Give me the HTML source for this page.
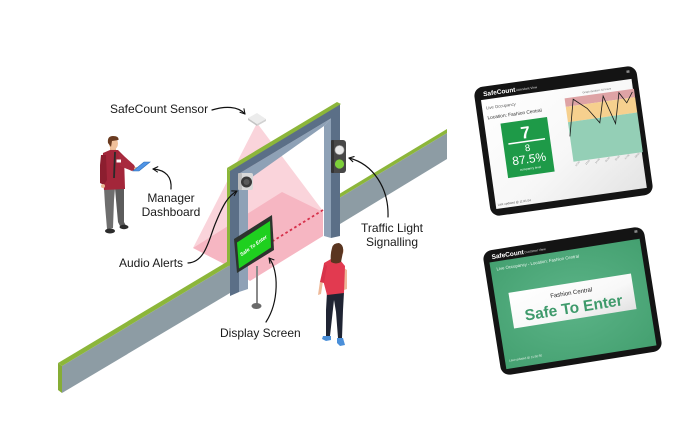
<!DOCTYPE html>
<html>
<head>
<meta charset="utf-8">
<style>
  html,body{margin:0;padding:0;background:#fff;}
  body{width:700px;height:440px;overflow:hidden;}
  svg{display:block;font-family:"Liberation Sans", Arial, sans-serif;}
</style>
</head>
<body>
<svg width="700" height="440" viewBox="0 0 700 440" xmlns="http://www.w3.org/2000/svg">
  <defs>
    <marker id="ah" viewBox="0 0 10 10" refX="8.5" refY="5" markerWidth="5.5" markerHeight="5.5" markerUnits="strokeWidth" orient="auto">
      <path d="M1.5,1 L8.5,5 L1.5,9" fill="none" stroke="#111" stroke-width="1.6" stroke-linecap="round" stroke-linejoin="round"/>
    </marker>
    <linearGradient id="scr1" x1="0" y1="0" x2="1" y2="1">
      <stop offset="0" stop-color="#ffffff"/>
      <stop offset="0.55" stop-color="#f7f7f7"/>
      <stop offset="1" stop-color="#e4e4e4"/>
    </linearGradient>
    <radialGradient id="scr2" cx="0.5" cy="0.5" r="0.7">
      <stop offset="0" stop-color="#5cb488"/>
      <stop offset="1" stop-color="#44a070"/>
    </radialGradient>
    <linearGradient id="ban" x1="0" y1="0" x2="1" y2="1">
      <stop offset="0" stop-color="#ffffff"/>
      <stop offset="0.6" stop-color="#f8f8f8"/>
      <stop offset="1" stop-color="#e2e2e2"/>
    </linearGradient>
  </defs>

  <rect width="700" height="440" fill="#ffffff"/>

  <!-- pink sensor cone and floor -->
  <polygon points="257,123 193,248 323,211" fill="#fad4db"/>
  <polygon points="193,248 282,192 323,212 323,236 250,281 228,266" fill="#f6b6c2"/>

  <!-- sensor -->
  <polygon points="248,120 257,126 257,124 248,118" fill="#c4c4c4"/>
  <polygon points="257,126 266,121 266,119 257,124" fill="#d2d2d2"/>
  <polygon points="248,118 257,113 266,119 257,124" fill="#ececec"/>

  <!-- wall left segment -->
  <polygon points="62,366 230,265 230,293 62,393" fill="#8d9ca4"/>
  <polygon points="58,363 230,260 230,265 62,366" fill="#8cb63a"/>
  <polygon points="58,363 62,366 62,393 58,390" fill="#86ad35"/>

  <!-- wall right segment -->
  <polygon points="340,197.5 447,133 447,159 340,224" fill="#8d9ca4"/>
  <polygon points="340,193.5 447,129 447,133 340,197.5" fill="#8cb63a"/>

  <!-- red dotted beam -->
  <line x1="323" y1="210" x2="273" y2="241" stroke="#d6304a" stroke-width="1.8" stroke-dasharray="2.6,2.6"/>

  <!-- gate -->
  <polygon points="239,173.6 331,118.4 324,126 248,180" fill="#8ea1b6"/>
  <polygon points="239,173.6 248,180 248,289 239,292" fill="#8ea1b6"/>
  <polygon points="324,126 331,118.4 331,238 324,236" fill="#8ea1b6"/>
  <polygon points="230,170 340,104 340,236 331,238 331,118.4 239,173.6 239,292 230,296" fill="#5b6f87"/>
  <polygon points="227,168 337,102 341,104 230,171" fill="#8cb63a"/>
  <polygon points="227,168 230,171 230,266 227,264" fill="#8cb63a"/>

  <!-- audio/camera unit -->
  <rect x="238" y="173" width="15" height="17" rx="2" fill="#d9d9d9"/>
  <rect x="238" y="173" width="4" height="17" rx="1" fill="#bdbdbd"/>
  <circle cx="246.5" cy="182" r="5.5" fill="#3a3a3a"/>
  <circle cx="246.5" cy="182" r="3" fill="#5a5a5a"/>

  <!-- traffic light -->
  <rect x="331" y="140" width="15" height="33" rx="3" fill="#474747"/>
  <rect x="331" y="140" width="3" height="33" rx="1" fill="#333"/>
  <circle cx="339.5" cy="150" r="4.6" fill="#e8e8e8" stroke="#9a9a9a" stroke-width="0.6"/>
  <circle cx="339.5" cy="164" r="4.6" fill="#7ccf3a"/>

  <!-- display screen -->
  <line x1="257" y1="266" x2="257" y2="304" stroke="#8a8a8a" stroke-width="2"/>
  <ellipse cx="256.5" cy="306" rx="5" ry="3" fill="#6a6a6a"/>
  <polygon points="234,239 272,215 274,250 237,273" fill="#2d332e"/>
  <polygon points="237,242.5 270,221 271,247.5 239,268.5" fill="#1fd01f"/>
  <text x="0" y="0" transform="translate(254.5,247) rotate(-36)" font-size="5" font-weight="bold" font-style="italic" fill="#fff" text-anchor="middle">Safe To Enter</text>

  <!-- man -->
  <polygon points="115,188 124,188 124,222 126,226 121,228 118,222 116,200" fill="#5c5c5c"/>
  <polygon points="104,188 115,188 114,200 113,228 107,229 105,205" fill="#6e6e6e"/>
  <ellipse cx="110" cy="231" rx="5" ry="2.5" fill="#2b2b2b"/>
  <ellipse cx="124" cy="227" rx="4.5" ry="2.2" fill="#2b2b2b"/>
  <rect x="110" y="145" width="6" height="8" fill="#e9b893"/>
  <polygon points="103,153 110,150 118,150 124,156 125,189 104,190 102,172" fill="#a3263a"/>
  <polygon points="101,155 106,155 107,180 104,185 100,183 100,165" fill="#8c1e2f"/>
  <circle cx="103" cy="186" r="2" fill="#e9b893"/>
  <polygon points="118,153 124,156 134,165 136,169 132,171 120,166" fill="#a82a3e"/>
  <circle cx="136" cy="169" r="2" fill="#e9b893"/>
  <polygon points="133,171 144,162 150,162 139,171" fill="#4f94e6" stroke="#2f6fb8" stroke-width="0.6"/>
  <line x1="115" y1="152" x2="114" y2="178" stroke="#2a2a2a" stroke-width="1.8"/>
  <rect x="116.5" y="159.5" width="4.5" height="3" fill="#fff"/>
  <ellipse cx="113.5" cy="143.5" rx="4.5" ry="6" fill="#f0c19b"/>
  <path d="M108,143 Q107,136 113,136 Q119,136 118.5,140 L112,141 L111,147 Z" fill="#6a3b20"/>

  <!-- woman -->
  <polygon points="327,292 344,292 343,310 342,338 338,338 336,312 334,300 332,318 330,336 326,336 326,310" fill="#1f2433"/>
  <polygon points="323,336 331,336 331,340 326,341 322,339" fill="#4a8fd9"/>
  <polygon points="337,338 343,338 345,345 340,346 337,343" fill="#4a8fd9"/>
  <polygon points="320,281 323,281 321,294 318,295" fill="#eeb999"/>
  <polygon points="344,268 347,270 347,289 344,290" fill="#eeb999"/>
  <polygon points="324,263 331,259 340,260 345,266 344,293 327,295 323,280" fill="#e23a50"/>
  <polygon points="324,264 327,266 324,283 320,282" fill="#d8334a"/>
  <ellipse cx="336" cy="261" rx="5" ry="2" fill="#f3e1e1"/>
  <ellipse cx="341" cy="251" rx="2.5" ry="4" fill="#eeb999"/>
  <path d="M332,248 Q333,243 339,243 Q344,245 343,252 L341,262 Q336,265 331,262 Q330,255 332,248 Z" fill="#5a3520"/>

  <!-- labels -->
  <g font-size="12" fill="#1a1a1a">
    <text x="110" y="113">SafeCount Sensor</text>
    <text x="171" y="202" text-anchor="middle">Manager</text>
    <text x="171" y="216" text-anchor="middle">Dashboard</text>
    <text x="119" y="267">Audio Alerts</text>
    <text x="392" y="232" text-anchor="middle">Traffic Light</text>
    <text x="392" y="246" text-anchor="middle">Signalling</text>
    <text x="220" y="337">Display Screen</text>
  </g>

  <!-- arrows -->
  <g fill="none" stroke="#111" stroke-width="1.2" stroke-linecap="round" marker-end="url(#ah)">
    <path d="M212,110 C225,106 238,106 245,114"/>
    <path d="M171,189 C172,177 166,170 153,169"/>
    <path d="M188,263 C206,262 209,238 216,222 C223,205 228,196 237,191"/>
    <path d="M388,217 C389,188 373,164 349,158"/>
    <path d="M266,322 C279,302 279,270 269,258"/>
  </g>

  <!-- tablet 1: attendant view -->
  <g transform="translate(563.5,141) rotate(-8)">
    <rect x="-82" y="-65" width="164" height="130" rx="9" fill="#141414"/>
    <rect x="-76" y="-52" width="152" height="110" fill="url(#scr1)"/>
    <text x="-73" y="-55.5" font-size="6.5" font-weight="bold" fill="#fff">SafeCount</text>
    <text x="-40" y="-56" font-size="3.2" fill="#ddd">Attendant View</text>
    <rect x="72" y="-61" width="3" height="2.5" fill="#888"/>
    <text x="-72" y="-42" font-size="4.2" fill="#555">Live Occupancy</text>
    <text x="-72" y="-32" font-size="4.8" fill="#333">Location:  Fashion Central</text>
    <rect x="-60" y="-26" width="47" height="55" fill="#1e9a48"/>
    <text x="-36.5" y="-8" font-size="17" font-weight="bold" fill="#fff" text-anchor="middle">7</text>
    <rect x="-55" y="-5.5" width="37" height="1.5" fill="#fff"/>
    <text x="-36.5" y="5" font-size="9.5" fill="#fff" text-anchor="middle">8</text>
    <text x="-36.5" y="17" font-size="12" fill="#fff" text-anchor="middle">87.5%</text>
    <text x="-36.5" y="23.5" font-size="3" fill="#fff" text-anchor="middle">occupancy level</text>
    <text x="40" y="-44.5" font-size="2.6" fill="#666" text-anchor="middle">Graph duration: 10 hours</text>
    <rect x="7" y="-42" width="70" height="8.5" fill="#dea3a5"/>
    <rect x="7" y="-33.5" width="70" height="15.5" fill="#f6d08e"/>
    <rect x="7" y="-18" width="70" height="40" fill="#94cfb6"/>
    <polyline points="7,-3.6 15.4,-40 28,-29 38.5,-13 45.5,-39 54,-10 61.6,-40 68,-29 75,-39" fill="none" stroke="#1a1a1a" stroke-width="0.8"/>
    <g font-size="2.4" fill="#888">
      <text x="9" y="27" transform="rotate(-40 9 27)">12:00</text>
      <text x="19" y="27" transform="rotate(-40 19 27)">13:00</text>
      <text x="29" y="27" transform="rotate(-40 29 27)">14:00</text>
      <text x="39" y="27" transform="rotate(-40 39 27)">15:00</text>
      <text x="49" y="27" transform="rotate(-40 49 27)">16:00</text>
      <text x="59" y="27" transform="rotate(-40 59 27)">17:00</text>
      <text x="69" y="27" transform="rotate(-40 69 27)">18:00</text>
    </g>
    <text x="-74" y="55" font-size="3" fill="#555">Last updated @ 11:01:54</text>
  </g>

  <!-- tablet 2: customer view -->
  <g transform="translate(572.5,301) rotate(-9)">
    <rect x="-81.5" y="-63" width="163" height="126" rx="9" fill="#141414"/>
    <rect x="-76" y="-51" width="152" height="108" fill="url(#scr2)"/>
    <text x="-73" y="-54" font-size="6.5" font-weight="bold" fill="#fff">SafeCount</text>
    <text x="-40" y="-54.5" font-size="3.2" fill="#ddd">Customer View</text>
    <rect x="72" y="-60" width="3" height="2.5" fill="#888"/>
    <text x="-70" y="-42" font-size="4.3" fill="#eaf6ef">Live Occupancy - Location: Fashion Central</text>
    <rect x="-62" y="-18" width="124" height="36" fill="url(#ban)"/>
    <text x="0" y="-6.5" font-size="6" fill="#222" text-anchor="middle">Fashion Central</text>
    <text x="0" y="12" font-size="15.5" font-weight="bold" fill="#3e9a6b" text-anchor="middle">Safe To Enter</text>
    <text x="-72" y="50" font-size="3" fill="#e0f0e6">Last updated @ 11:50:50</text>
  </g>
</svg>
</body>
</html>
